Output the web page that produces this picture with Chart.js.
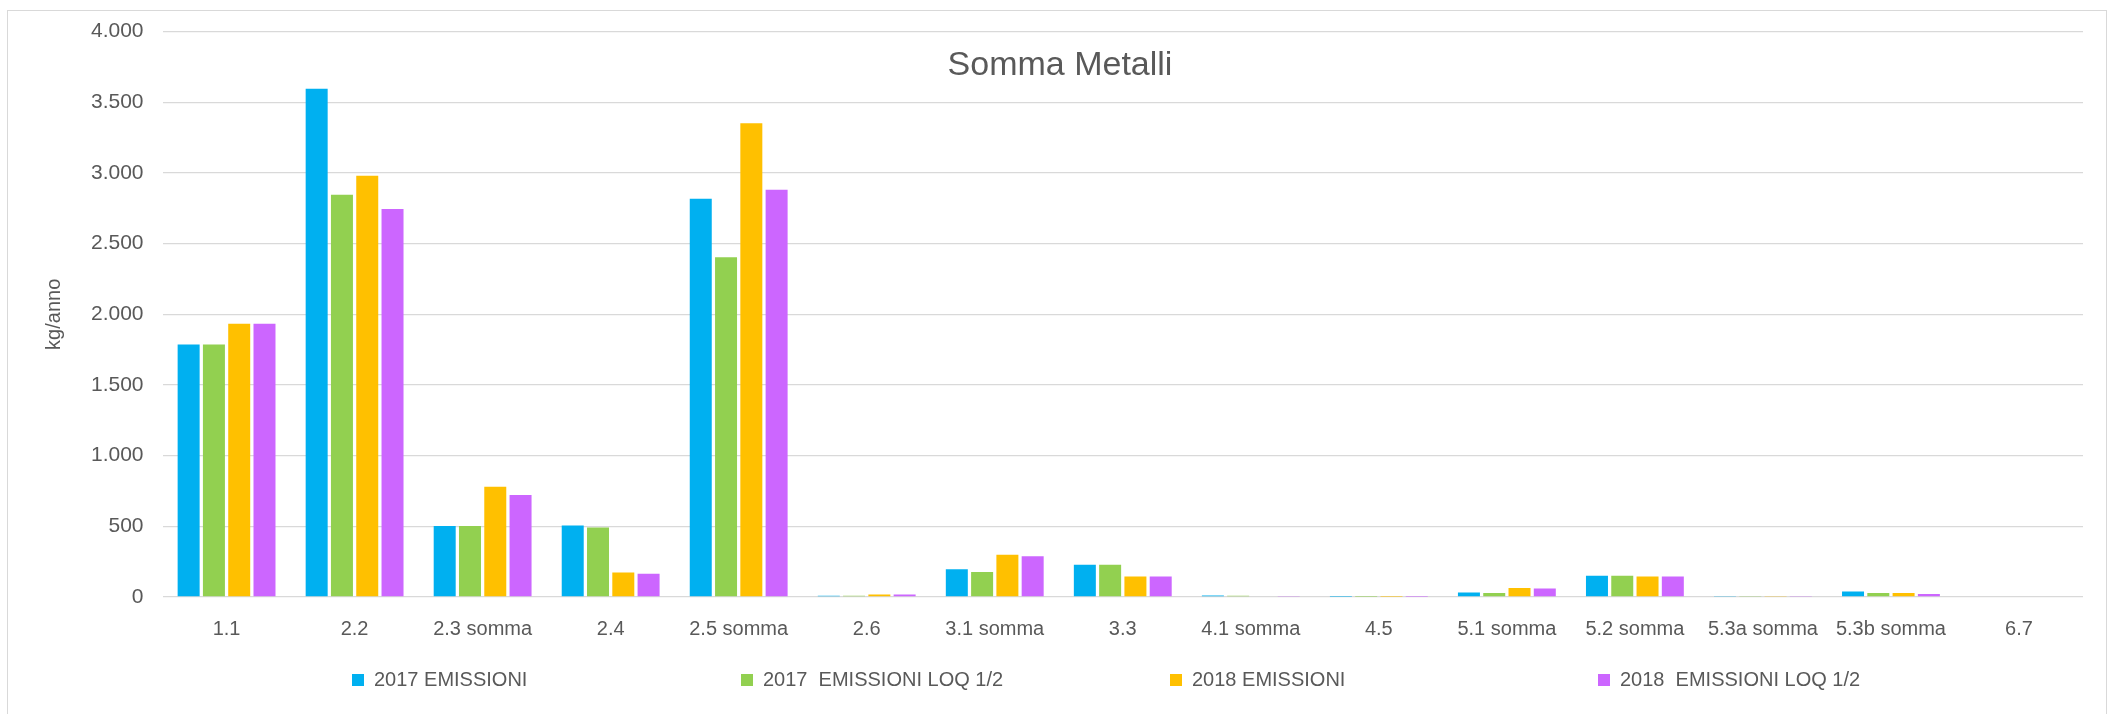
<!DOCTYPE html>
<html>
<head>
<meta charset="utf-8">
<title>Somma Metalli</title>
<script src="https://cdn.jsdelivr.net/npm/chart.js@4/dist/chart.umd.min.js"></script>
<style>
    body { margin: 0; background: #fff; }
    #wrap { position: relative; width: 2120px; height: 714px; }
    #frame { position: absolute; left: 7px; top: 10px; width: 2100px; height: 710px; border: 1px solid #d9d9d9; box-sizing: border-box; }
    canvas { position: absolute; left: 0; top: 0; }
    #legend { position: absolute; left: 0; top: 668px; width: 2120px; height: 26px; font: 20px "Liberation Sans", Arial, sans-serif; color: #595959; white-space: pre; }
    #legend .item { position: absolute; top: 0; display: flex; align-items: center; }
    #legend .item:nth-child(1) { left: 352px; }
    #legend .item:nth-child(2) { left: 741px; }
    #legend .item:nth-child(3) { left: 1170px; }
    #legend .item:nth-child(4) { left: 1598px; }
    #legend .box { width: 12px; height: 12px; margin-right: 10px; }
</style>
</head>
<body>
<div id="wrap">
    <div id="frame"></div>
    <canvas id="chart" width="2120" height="714"></canvas>
    <div id="legend"></div>
</div>
<script>
// Categories and series values (kg/anno)
const categories = ['1.1', '2.2', '2.3 somma', '2.4', '2.5 somma', '2.6', '3.1 somma', '3.3', '4.1 somma', '4.5', '5.1 somma', '5.2 somma', '5.3a somma', '5.3b somma', '6.7'];
const emissioni2017 = [1786, 3595, 503, 506, 2818, 8, 196, 229, 11, 2, 31, 151, 3, 39, 0];
const emissioniLoq2017 = [1786, 2846, 503, 492, 2404, 8, 176, 229, 8, 1, 28, 151, 3, 28, 0];
const emissioni2018 = [1934, 2980, 780, 173, 3352, 17, 299, 145, 5, 1, 64, 145, 3, 28, 0];
const emissioniLoq2018 = [1934, 2745, 721, 165, 2882, 17, 288, 145, 3, 1, 61, 145, 3, 22, 0];
const seriesNames = ['2017 EMISSIONI', '2017  EMISSIONI LOQ 1/2', '2018 EMISSIONI', '2018  EMISSIONI LOQ 1/2'];
const seriesColors = ['#00b0f0', '#92d050', '#ffc000', '#cc66ff'];
const yTicks = [0, 500, 1000, 1500, 2000, 2500, 3000, 3500, 4000];

const textColor = '#595959';
const fontFamily = '"Liberation Sans", Arial, sans-serif';

// thousands separator like the Italian Excel output
function formatThousands(v) {
    return String(v).replace(/\B(?=(\d{3})+(?!\d))/g, '.');
}

// title sits inside the plot area, so draw it by hand
const titlePlugin = {
    id: 'insideTitle',
    afterDraw(chart) {
        const ctx = chart.ctx;
        ctx.save();
        ctx.font = '34px ' + fontFamily;
        ctx.fillStyle = textColor;
        ctx.textAlign = 'center';
        ctx.textBaseline = 'middle';
        ctx.fillText('Somma Metalli', chart.width / 2, 66);
        ctx.restore();
    }
};

const allSeries = [emissioni2017, emissioniLoq2017, emissioni2018, emissioniLoq2018];

const chart = new Chart(document.getElementById('chart').getContext('2d'), {
    type: 'bar',
    data: {
        labels: categories,
        datasets: allSeries.map((values, i) => ({
            label: seriesNames[i],
            data: values,
            backgroundColor: seriesColors[i],
            borderWidth: 0,
            categoryPercentage: 0.79,
            barPercentage: 0.87
        }))
    },
    options: {
        responsive: false,
        animation: false,
        layout: {
            padding: { top: 10, right: 37, bottom: 61, left: 42 }
        },
        plugins: {
            title: { display: false },
            tooltip: { enabled: false },
            legend: { display: false }
        },
        scales: {
            x: {
                grid: { display: false },
                border: { display: false },
                ticks: {
                    color: textColor,
                    font: { family: fontFamily, size: 20 },
                    maxRotation: 0,
                    autoSkip: false,
                    padding: 12
                }
            },
            y: {
                min: 0,
                max: 4000,
                afterBuildTicks(axis) {
                    axis.ticks = yTicks.map(v => ({ value: v }));
                },
                grid: { color: '#d9d9d9', lineWidth: 1.3, drawTicks: false },
                border: { display: false },
                ticks: {
                    color: textColor,
                    font: { family: fontFamily, size: 21 },
                    padding: 19,
                    callback: v => formatThousands(v)
                },
                title: {
                    display: true,
                    text: 'kg/anno',
                    color: textColor,
                    font: { family: fontFamily, size: 20 },
                    padding: { top: 0, bottom: 6 }
                }
            }
        }
    },
    plugins: [titlePlugin]
});

// legend drawn as html, spread out like the original
const legendEl = document.getElementById('legend');
chart.data.datasets.forEach(ds => {
    const item = document.createElement('div');
    item.className = 'item';
    item.innerHTML = `<span class="box" style="background:${ds.backgroundColor}"></span><span>${ds.label}</span>`;
    legendEl.appendChild(item);
});
</script>
</body>
</html>
